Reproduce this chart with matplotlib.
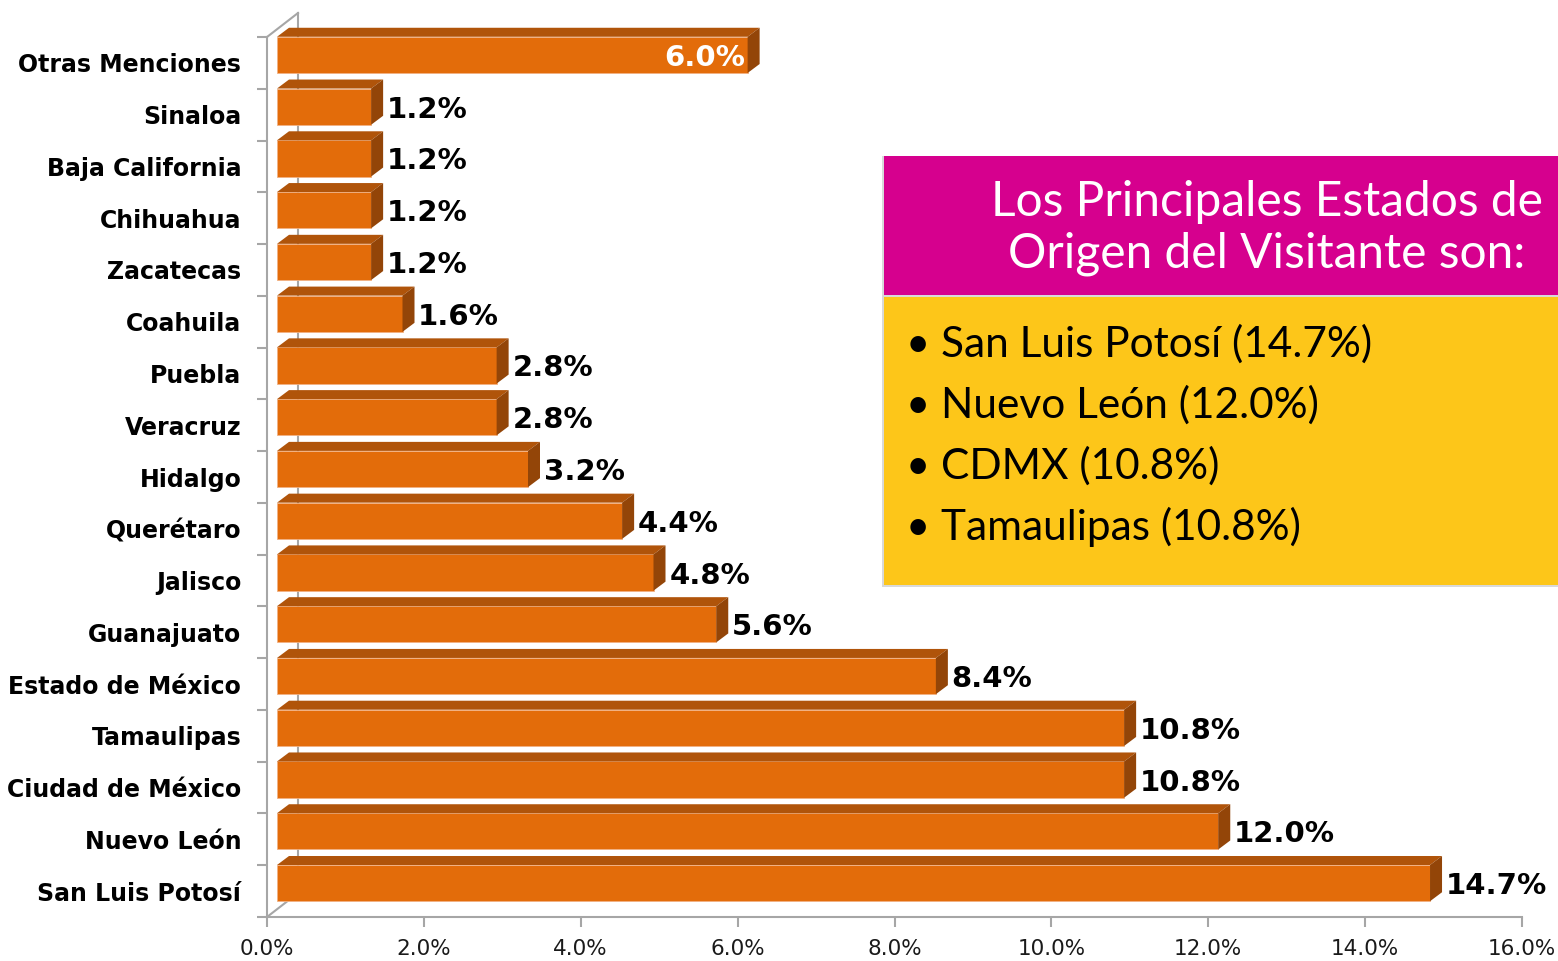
import matplotlib
matplotlib.use("Agg")
import matplotlib.pyplot as plt
import matplotlib.transforms as mtransforms
from matplotlib.patches import Polygon, Rectangle

estados = ["San Luis Potosí", "Nuevo León", "Ciudad de México", "Tamaulipas",
           "Estado de México", "Guanajuato", "Jalisco", "Querétaro", "Hidalgo",
           "Veracruz", "Puebla", "Coahuila", "Zacatecas", "Chihuahua",
           "Baja California", "Sinaloa", "Otras Menciones"]
porcentajes = [14.7, 12.0, 10.8, 10.8, 8.4, 5.6, 4.8, 4.4, 3.2, 2.8, 2.8,
               1.6, 1.2, 1.2, 1.2, 1.2, 6.0]
xticks = [0, 2, 4, 6, 8, 10, 12, 14, 16]

titulo = ["Los Principales Estados de", "Origen del Visitante son:"]
principales = ["San Luis Potosí (14.7%)", "Nuevo León (12.0%)",
               "CDMX (10.8%)", "Tamaulipas (10.8%)"]

W, H = 1558, 961
FRONT = "#E36C0A"
TOP = "#B0540A"
SIDE = "#934508"
GRID = "#A6A6A6"

fig = plt.figure(figsize=(W / 100, H / 100), dpi=100)
fig.patch.set_facecolor("white")


def fx(px):
    return px / W


def fy(py):
    return 1 - py / H


ax = fig.add_axes([fx(267), fy(917), fx(1522) - fx(267), fy(37) - fy(917)])
ax.set_xlim(0, 16)
ax.set_ylim(-0.5, len(estados) - 0.5)
ax.set_facecolor("none")

# pixel -> data conversion for the 3D offsets
ppx = (1522 - 267) / 16.0
ppy = (917 - 37) / len(estados)
shift = mtransforms.ScaledTranslation(0.10, 0.08, fig.dpi_scale_trans)
wall = mtransforms.ScaledTranslation(0.31, 0.24, fig.dpi_scale_trans)
dx, dy = 12 / ppx, 9 / ppy
h = 0.70

# walls: back vertical line and the two diagonals
ax.plot([0, 0], [-0.5, len(estados) - 0.5], color=GRID, lw=1.5,
        transform=ax.transData + wall, zorder=0, clip_on=False)
for yy in (-0.5, len(estados) - 0.5):
    ax.plot([0, 31 / ppx], [yy, yy + 24 / ppy], color=GRID, lw=1.5,
            zorder=0.5, clip_on=False)

bar_tr = ax.transData + shift
for i, v in enumerate(porcentajes):
    yb, yt = i - h / 2, i + h / 2
    ax.add_patch(Rectangle((0, yb), v, h, facecolor=FRONT, edgecolor="#F2B183",
                           lw=0.6, transform=bar_tr, zorder=3, clip_on=False))
    ax.add_patch(Polygon([(0, yt), (v, yt), (v + dx, yt + dy), (dx, yt + dy)],
                         closed=True, facecolor=TOP, edgecolor="none",
                         transform=bar_tr, zorder=3, clip_on=False))
    ax.add_patch(Polygon([(v, yb), (v, yt), (v + dx, yt + dy), (v + dx, yb + dy)],
                         closed=True, facecolor=SIDE, edgecolor="none",
                         transform=bar_tr, zorder=3, clip_on=False))
    label = f"{v:.1f}%"
    if i == len(porcentajes) - 1:
        ax.annotate(label, xy=(v, i), xytext=(5.5, 3.6), textcoords="offset points",
                    ha="right", va="center", color="white", fontsize=21,
                    fontweight="bold", zorder=5)
    else:
        ax.annotate(label, xy=(v, i), xytext=(18.5, 3.6), textcoords="offset points",
                    ha="left", va="center", color="black", fontsize=21,
                    fontweight="bold", zorder=5, annotation_clip=False)

for s in ("top", "right"):
    ax.spines[s].set_visible(False)
for s in ("left", "bottom"):
    ax.spines[s].set_color(GRID)
    ax.spines[s].set_linewidth(1.5)

ax.set_yticks(range(len(estados)), estados)
ax.set_yticks([k - 0.5 for k in range(len(estados) + 1)], minor=True)
ax.tick_params(axis="y", which="major", length=0, pad=18.5, labelsize=17)
ax.tick_params(axis="y", which="minor", length=7, width=1.5, color=GRID)
for t in ax.get_yticklabels():
    t.set_fontweight("bold")

ax.set_xticks(xticks, [f"{t:.1f}%" for t in xticks])
ax.tick_params(axis="x", length=7, width=1.5, color=GRID, pad=9,
               labelsize=15.5, labelcolor="#1A1A1A")

# side panel
fig.add_artist(Rectangle((fx(882), fy(587)), fx(1558) - fx(882), fy(296) - fy(587),
                         transform=fig.transFigure, facecolor="#D9D9D9", edgecolor="none"))
fig.add_artist(Rectangle((fx(884), fy(585)), fx(1558) - fx(884), fy(297) - fy(585),
                         transform=fig.transFigure, facecolor="#FDC619", edgecolor="none"))
fig.add_artist(Rectangle((fx(882), fy(296)), fx(1558) - fx(882), fy(156) - fy(296),
                         transform=fig.transFigure, facecolor="#D9D9D9", edgecolor="none"))
fig.add_artist(Rectangle((fx(884), fy(295)), fx(1558) - fx(884), fy(156) - fy(295),
                         transform=fig.transFigure, facecolor="#D6008E", edgecolor="none"))

for k, linea in enumerate(titulo):
    fig.text(fx(1267), fy(216 + 52 * k), linea, ha="center", va="baseline",
             color="white", fontsize=34.5, family="Lato")

for k, item in enumerate(principales):
    fig.text(fx(906), fy(357 + 61 * k), "•", ha="left", va="baseline",
             color="black", fontsize=30, family="Lato")
    fig.text(fx(941), fy(357 + 61 * k), item, ha="left", va="baseline",
             color="black", fontsize=30.5, family="Lato")

fig.savefig("out.png", dpi=100)
